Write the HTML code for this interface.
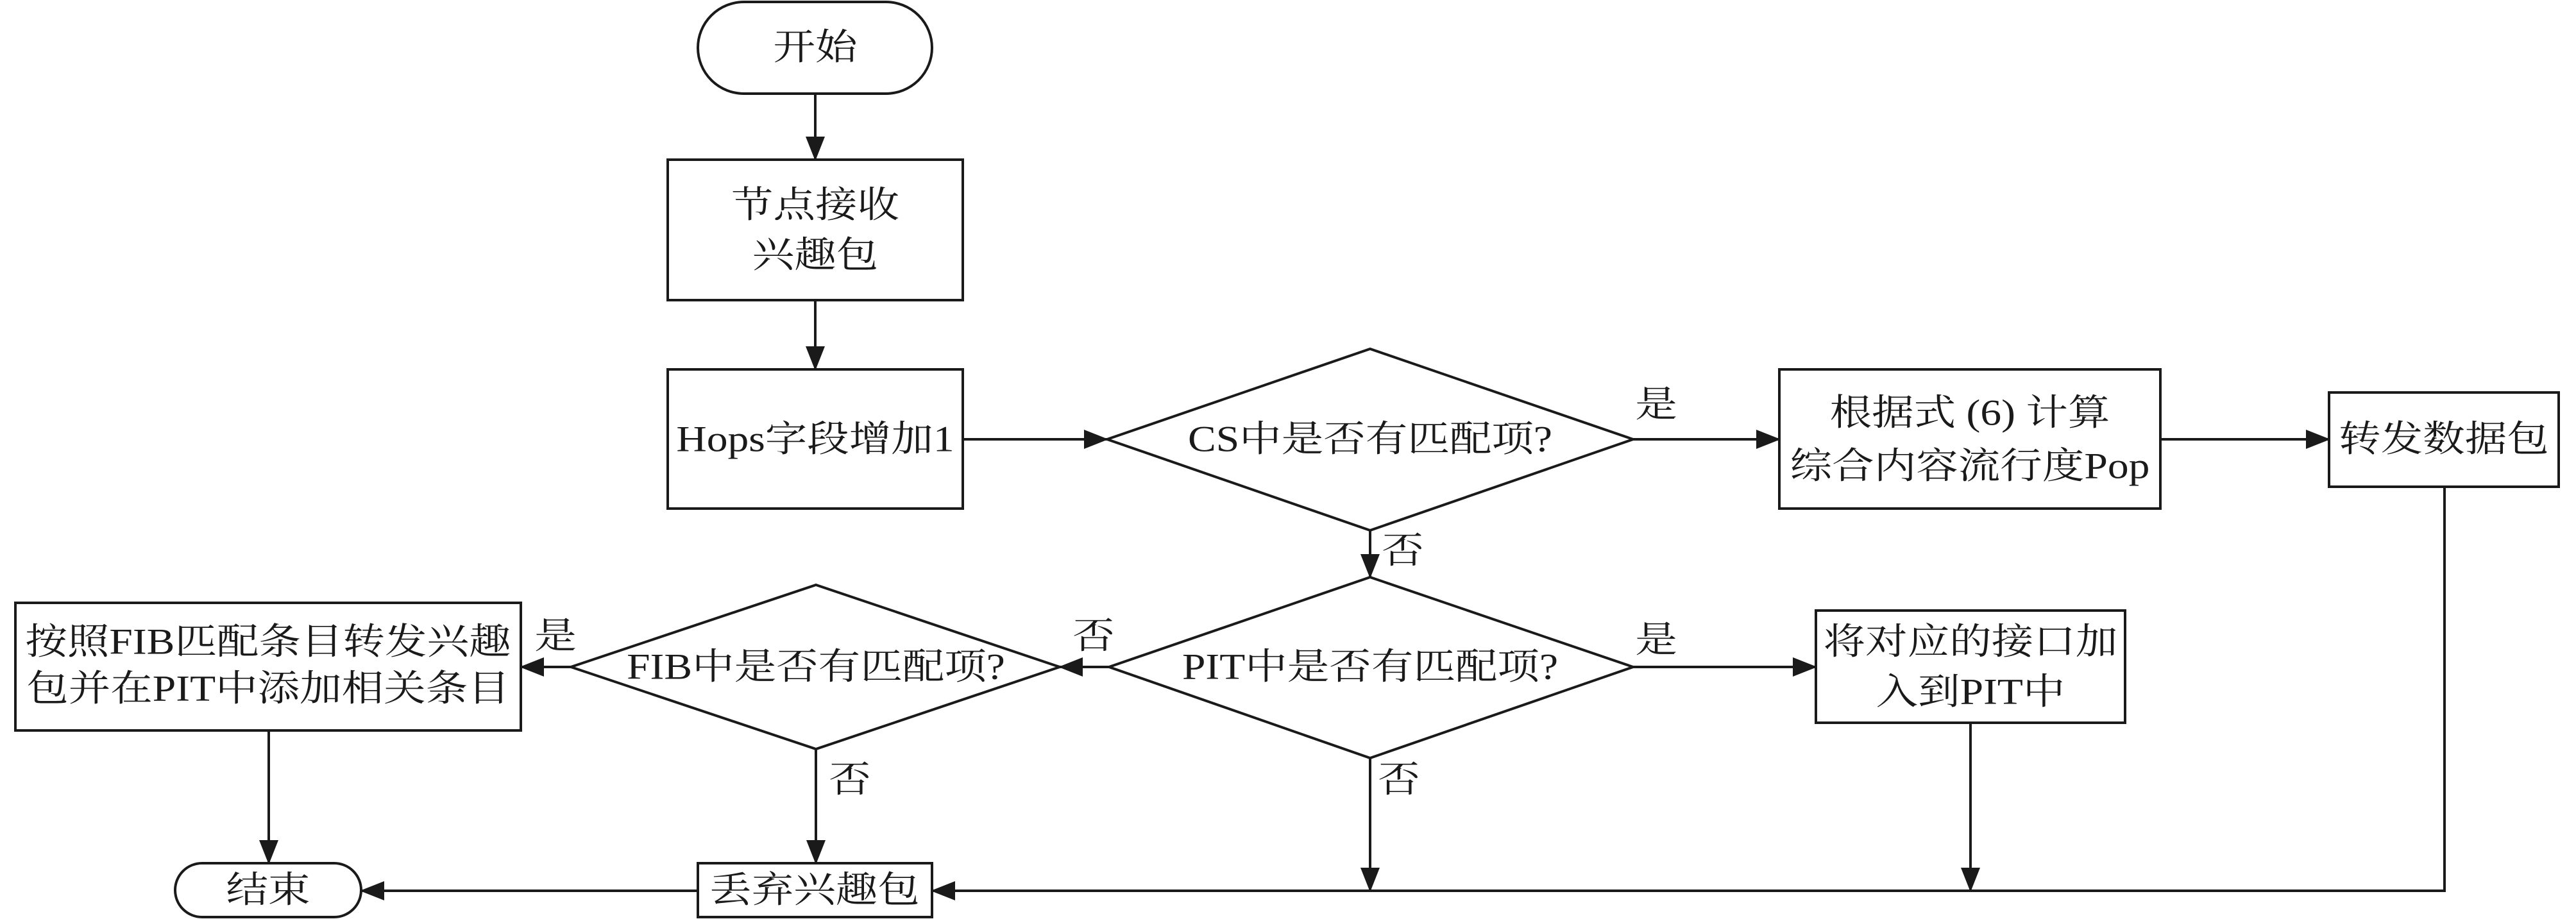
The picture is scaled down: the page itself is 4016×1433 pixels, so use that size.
<!DOCTYPE html>
<html><head><meta charset="utf-8"><style>
html,body{margin:0;padding:0;background:#fff;}
svg{display:block;}
text{font-family:"Liberation Serif","Noto Serif CJK SC",serif;font-size:57px;fill:#1a1a1a;text-anchor:middle;dominant-baseline:central;}
</style></head><body>
<svg width="4016" height="1433" viewBox="0 0 4016 1433" xmlns="http://www.w3.org/2000/svg">
<defs>
<marker id="a" markerUnits="userSpaceOnUse" markerWidth="38" markerHeight="30" refX="36" refY="15" orient="auto">
<path d="M0,0 L38,15 L0,30 Z" fill="#1a1a1a"/>
</marker>
</defs>
<g stroke="#1a1a1a" stroke-width="4" fill="none">
<rect x="1088" y="3" width="365" height="143" rx="72"/>
<rect x="1041" y="249" width="460" height="219"/>
<rect x="1041" y="576" width="460" height="217"/>
<polygon points="1726,685 2136,544 2546,685 2136,827"/>
<rect x="2774" y="576" width="594" height="217"/>
<rect x="3631" y="612" width="358" height="147"/>
<polygon points="1729,1040 2136,900 2546,1040 2136,1182"/>
<rect x="2831" y="952" width="482" height="175"/>
<polygon points="890,1040 1272,912 1652,1040 1272,1168"/>
<rect x="24" y="940" width="788" height="199"/>
<rect x="273" y="1346" width="290" height="84" rx="42"/>
<rect x="1088" y="1346" width="365" height="84"/>
<line x1="1271" y1="146" x2="1271" y2="249" marker-end="url(#a)"/>
<line x1="1271" y1="468" x2="1271" y2="576" marker-end="url(#a)"/>
<line x1="1501" y1="685" x2="1726" y2="685" marker-end="url(#a)"/>
<line x1="2546" y1="685" x2="2774" y2="685" marker-end="url(#a)"/>
<line x1="3368" y1="685" x2="3631" y2="685" marker-end="url(#a)"/>
<line x1="2136" y1="827" x2="2136" y2="900" marker-end="url(#a)"/>
<line x1="1729" y1="1040" x2="1652" y2="1040" marker-end="url(#a)"/>
<line x1="2546" y1="1040" x2="2831" y2="1040" marker-end="url(#a)"/>
<line x1="890" y1="1040" x2="812" y2="1040" marker-end="url(#a)"/>
<line x1="1272" y1="1168" x2="1272" y2="1346" marker-end="url(#a)"/>
<line x1="2136" y1="1182" x2="2136" y2="1389" marker-end="url(#a)"/>
<line x1="3072" y1="1127" x2="3072" y2="1389" marker-end="url(#a)"/>
<polyline points="3811,759 3811,1389 1453,1389" marker-end="url(#a)"/>
<line x1="419" y1="1139" x2="419" y2="1346" marker-end="url(#a)"/>
<line x1="1088" y1="1389" x2="563" y2="1389" marker-end="url(#a)"/>
</g>
<g>
<text transform="translate(1271,74) scale(1.15,1)">开始</text>
<text transform="translate(1271,320) scale(1.15,1)">节点接收</text>
<text transform="translate(1271,398) scale(1.15,1)">兴趣包</text>
<text transform="translate(1271,685) scale(1.15,1)">Hops字段增加1</text>
<text transform="translate(2136,685) scale(1.15,1)">CS中是否有匹配项?</text>
<text transform="translate(3071,644) scale(1.15,1)">根据式 (6) 计算</text>
<text transform="translate(3071,727) scale(1.15,1)">综合内容流行度Pop</text>
<text transform="translate(3810,685) scale(1.15,1)">转发数据包</text>
<text transform="translate(2136,1040) scale(1.15,1)">PIT中是否有匹配项?</text>
<text transform="translate(3072,1001) scale(1.15,1)">将对应的接口加</text>
<text transform="translate(3072,1079) scale(1.15,1)">入到PIT中</text>
<text transform="translate(1272,1040) scale(1.15,1)">FIB中是否有匹配项?</text>
<text transform="translate(418,1001) scale(1.15,1)">按照FIB匹配条目转发兴趣</text>
<text transform="translate(418,1074) scale(1.15,1)">包并在PIT中添加相关条目</text>
<text transform="translate(418,1388) scale(1.15,1)">结束</text>
<text transform="translate(1270,1388) scale(1.15,1)">丢弃兴趣包</text>
<text transform="translate(2582,631) scale(1.15,1)">是</text>
<text transform="translate(2187,859) scale(1.15,1)">否</text>
<text transform="translate(2582,998) scale(1.15,1)">是</text>
<text transform="translate(2181,1216) scale(1.15,1)">否</text>
<text transform="translate(1325,1216) scale(1.15,1)">否</text>
<text transform="translate(1705,992) scale(1.15,1)">否</text>
<text transform="translate(866,992) scale(1.15,1)">是</text>
</g>
</svg>
</body></html>
